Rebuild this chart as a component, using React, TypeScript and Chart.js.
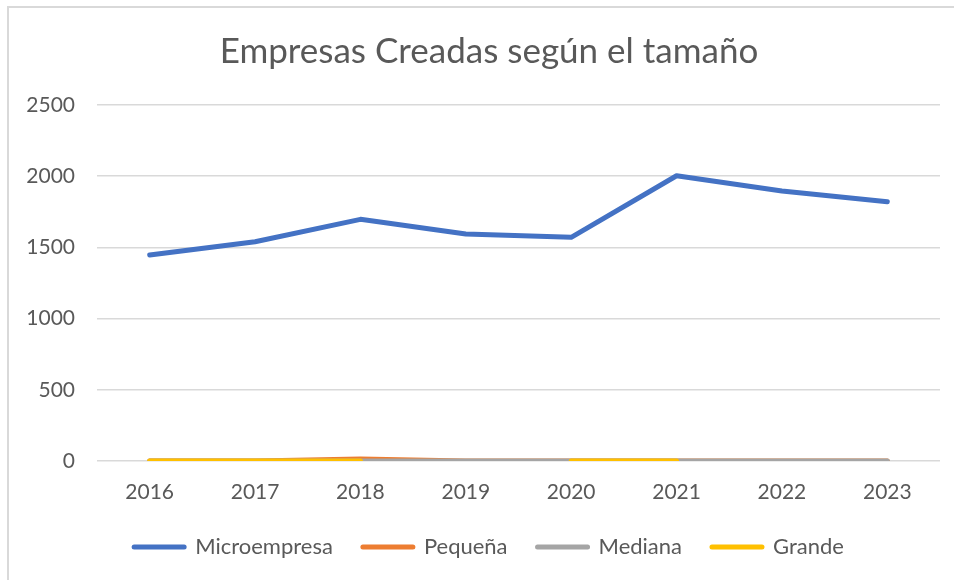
import React, { useEffect, useRef } from "react";
import { Chart, registerables } from "chart.js";

Chart.register(...registerables);

const years = ["2016", "2017", "2018", "2019", "2020", "2021", "2022", "2023"];
const microempresa = [1447, 1540, 1697, 1594, 1571, 2003, 1896, 1821];
const pequena = [0, 0, 14, 0, 0, 0, 0, 0];
const mediana = [0, 0, 0, 0, 0, 0, 0, 0];
const grande: (number | null)[] = [0, 0, 0, null, 0, 0, null, null];
const seriesNames = ["Microempresa", "Pequeña", "Mediana", "Grande"];
const yMax = 2500;
const yStep = 500;
const titleText = "Empresas Creadas según el tamaño";

const FONT = "Lato, 'Open Sans', sans-serif";
const TEXT = "#595959";
const GRID = "#d9d9d9";

export default function App() {
  const ref = useRef<HTMLCanvasElement | null>(null);

  useEffect(() => {
    document.body.style.margin = "0";
    document.body.style.overflow = "hidden";
    const canvas = ref.current;
    if (!canvas) return;
    const mk = (label: string, data: (number | null)[], color: string, order: number) => ({
      label,
      data,
      borderColor: color,
      backgroundColor: color,
      borderWidth: 5,
      borderCapStyle: "round" as const,
      borderJoinStyle: "round" as const,
      pointRadius: 0,
      pointHoverRadius: 0,
      tension: 0,
      spanGaps: false,
      order,
    });
    const chart = new Chart(canvas, {
      type: "line",
      data: {
        labels: years,
        datasets: [
          mk(seriesNames[0], microempresa, "#4472C4", 3),
          mk(seriesNames[1], pequena, "#ED7D31", 2),
          mk(seriesNames[2], mediana, "#A5A5A5", 1),
          mk(seriesNames[3], grande, "#FFC000", 0),
        ],
      },
      options: {
        responsive: false,
        animation: false,
        layout: { padding: { left: 29, right: 29, top: 0, bottom: 20 } },
        plugins: {
          title: {
            display: true,
            text: titleText,
            color: TEXT,
            font: { family: FONT, size: 35, weight: "normal" },
            padding: { top: 23, bottom: 32 },
          },
          legend: {
            position: "bottom",
            labels: {
              color: TEXT,
              font: { family: FONT, size: 22 },
              boxWidth: 50,
              boxHeight: 0,
              padding: 30,
              sort: (a: any, b: any) => a.datasetIndex - b.datasetIndex,
            },
          },
          tooltip: { enabled: false },
        },
        scales: {
          x: {
            offset: true,
            grid: { display: false, drawTicks: false },
            border: { display: false },
            ticks: {
              color: TEXT,
              font: { family: FONT, size: 21 },
              padding: 19,
              maxRotation: 0,
            },
            afterFit: (scale: any) => {
              scale.height = 45;
            },
          },
          y: {
            min: 0,
            max: yMax,
            grid: { color: GRID, lineWidth: 1.5, drawTicks: false },
            border: { display: false },
            ticks: {
              stepSize: yStep,
              color: TEXT,
              font: { family: FONT, size: 21 },
              padding: 22,
              callback: (v: any) => String(v),
            },
            afterFit: (scale: any) => {
              scale.width = 59;
              // let the tick labels extend to the left of the narrow axis box
              scale._computeLabelArea = () => undefined;
            },
          },
        },
      },
    });
    return () => chart.destroy();
  }, []);

  return (
    <div
      style={{
        position: "fixed",
        left: 7,
        top: 6,
        width: 960,
        height: 580,
        borderTop: "2px solid #d9d9d9",
        borderLeft: "2px solid #d9d9d9",
        background: "#fff",
      }}
    >
      <canvas ref={ref} width={960} height={580} style={{ display: "block" }} />
    </div>
  );
}
